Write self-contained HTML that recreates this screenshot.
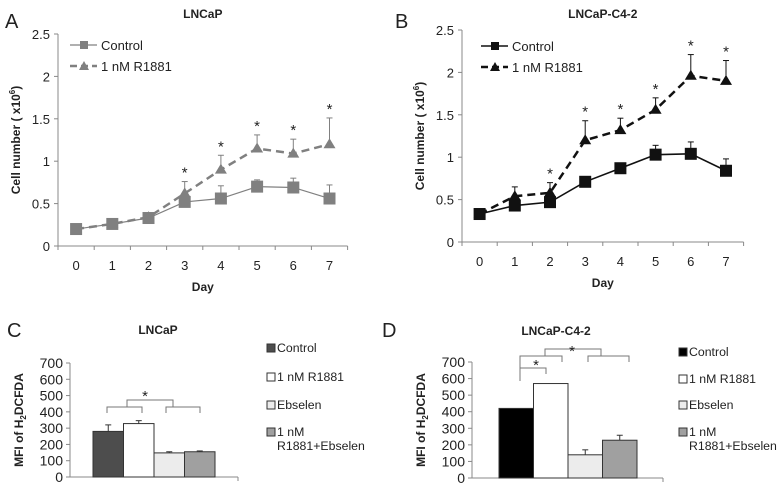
<!DOCTYPE html>
<html><head><meta charset="utf-8"><style>
body{margin:0;background:#fff}
svg{display:block;font-family:"Liberation Sans",Arial,sans-serif}
</style></head><body>
<svg id="s" width="780" height="487" viewBox="0 0 780 487"></svg>
<script>
const days=[0,1,2,3,4,5,6,7];
const aCtrl=[0.2,0.26,0.33,0.52,0.56,0.70,0.69,0.56];
const aCtrlErr=[0.02,0.05,0.05,0.05,0.15,0.08,0.11,0.16];
const aR=[0.2,0.26,0.34,0.62,0.9,1.15,1.09,1.2];
const aRErr=[0,0,0,0.14,0.17,0.16,0.17,0.31];
const aStar=[0,0,0,1,1,1,1,1];
const bCtrl=[0.33,0.43,0.47,0.71,0.87,1.03,1.04,0.84];
const bCtrlErr=[0,0,0,0,0,0.11,0.14,0.14];
const bR=[0.33,0.54,0.58,1.2,1.32,1.56,1.96,1.9];
const bRErr=[0,0.11,0.12,0.23,0.14,0.14,0.25,0.24];
const bStar=[0,0,1,1,1,1,1,1];
const yTicksLine=[0,0.5,1,1.5,2,2.5];
const yTickLabelsLine=["0","0.5","1","1.5","2","2.5"];
const barCats=["Control","1 nM R1881","Ebselen","1 nM R1881+Ebselen"];
const cVals=[280,328,148,155];
const cErr=[40,18,7,5];
const dVals=[420,570,140,228];
const dErr=[0,0,30,30];
const yTicksBar=[0,100,200,300,400,500,600,700];

const S=document.getElementById('s');
const NS="http://www.w3.org/2000/svg";
function el(t,a,txt,name){const e=document.createElementNS(NS,t);for(const k in a)e.setAttribute(k,a[k]);if(txt!=null)e.textContent=txt;


S.appendChild(e);return e;}
function line(x1,y1,x2,y2,st,w,da,name){return el('line',{x1,y1,x2,y2,stroke:st,'stroke-width':w||1,'stroke-dasharray':da||'none'},null,name||'line');}
function text(x,y,t,o,name){return el('text',Object.assign({x,y,'font-size':13,fill:'#222'},o||{}),t,name||'label');}

function linePanel(P){
  const xs=d=>P.x0+(d+0.5)*P.cw, ys=v=>P.y0-v*P.ppu;
  line(P.x0,P.y0,P.x0,ys(2.5),'#888',1,null,'y-axis');
  line(P.x0,P.y0,P.x0+8*P.cw,P.y0,'#888',1,null,'x-axis');
  yTicksLine.forEach((v,i)=>{line(P.x0-4,ys(v),P.x0,ys(v),'#888',1,null,'y-tick');text(P.x0-8,ys(v)+5,yTickLabelsLine[i],{'text-anchor':'end'},'y-tick-label');});
  for(let k=0;k<=8;k++)line(P.x0+k*P.cw,P.y0,P.x0+k*P.cw,P.y0+4,'#888',1,null,'x-tick');
  days.forEach(d=>text(xs(d),P.y0+24,String(d),{'text-anchor':'middle'},'x-tick-label'));
  text(xs(3.5),P.y0+45,'Day',{'text-anchor':'middle','font-weight':'bold','font-size':12},'x-axis-title');
  const yt=el('text',{x:0,y:0,'font-size':12,'font-weight':'bold',fill:'#222','text-anchor':'middle',transform:`translate(${P.x0-38},${ys(1.25)}) rotate(-90)`},null,'y-axis-title');
  yt.innerHTML='Cell number ( x10<tspan dy="-5" font-size="8">6</tspan><tspan dy="5">)</tspan>';
  text(xs(3.5),18,P.title,{'text-anchor':'middle','font-weight':'bold','font-size':12},'chart-title');
  text(P.lx,28,P.letter,{'font-size':20},'panel-letter');
  P.r.forEach((v,i)=>{if(P.re[i]>0){line(xs(i),ys(v),xs(i),ys(v+P.re[i]),P.c,1,null,'error-bar');line(xs(i)-3,ys(v+P.re[i]),xs(i)+3,ys(v+P.re[i]),P.c,1,null,'error-cap');}
    if(P.st[i])text(xs(i),ys(v+P.re[i])-4,'*',{'text-anchor':'middle','font-size':15},'significance-star');});
  P.ct.forEach((v,i)=>{if(P.ce[i]>0){line(xs(i),ys(v),xs(i),ys(v+P.ce[i]),P.c,1,null,'error-bar');line(xs(i)-3,ys(v+P.ce[i]),xs(i)+3,ys(v+P.ce[i]),P.c,1,null,'error-cap');}});
  el('polyline',{points:P.r.map((v,i)=>xs(i)+','+ys(v)).join(' '),fill:'none',stroke:P.c,'stroke-width':2.5,'stroke-dasharray':'8,5'},null,'r1881-line');
  el('polyline',{points:P.ct.map((v,i)=>xs(i)+','+ys(v)).join(' '),fill:'none',stroke:P.c,'stroke-width':P.cl},null,'control-line');
  P.r.forEach((v,i)=>el('polygon',{points:`${xs(i)},${ys(v)-6} ${xs(i)-6},${ys(v)+4} ${xs(i)+6},${ys(v)+4}`,fill:P.c},null,'r1881-point'));
  P.ct.forEach((v,i)=>el('rect',{x:xs(i)-6,y:ys(v)-6,width:12,height:12,fill:P.c},null,'control-point'));
  line(P.lgx,P.lgy,P.lgx+27,P.lgy,P.c,P.cl,null,'legend-control-line');
  el('rect',{x:P.lgx+10,y:P.lgy-4,width:8,height:8,fill:P.c},null,'legend-control-marker');
  text(P.lgx+31,P.lgy+5,'Control',{},'legend-control-label');
  line(P.lgx,P.lgy+21,P.lgx+27,P.lgy+21,P.c,2.5,'7,4','legend-r1881-line');
  el('polygon',{points:`${P.lgx+14},${P.lgy+16} ${P.lgx+9},${P.lgy+25} ${P.lgx+19},${P.lgy+25}`,fill:P.c},null,'legend-r1881-marker');
  text(P.lgx+31,P.lgy+26,'1 nM R1881',{},'legend-r1881-label');
}
linePanel({x0:58,y0:246,cw:36.2,ppu:84.8,title:'LNCaP',letter:'A',lx:5,c:'#808080',cl:1.2,ct:aCtrl,ce:aCtrlErr,r:aR,re:aRErr,st:aStar,lgx:70,lgy:45});
linePanel({x0:462,y0:242,cw:35.2,ppu:84.8,title:'LNCaP-C4-2',letter:'B',lx:395,c:'#111',cl:1.6,ct:bCtrl,ce:bCtrlErr,r:bR,re:bRErr,st:bStar,lgx:481,lgy:46});

const fills=['#4d4d4d','#fff','#ececec','#a0a0a0'];
function barPanel(P){
  const ys=v=>P.y0-v*P.ppv;
  line(P.x0,P.y0,P.x0,ys(700),'#888',1,null,'y-axis');
  line(P.x0,P.y0,P.xe,P.y0,'#888',1,null,'x-axis');
  line(P.xe,P.y0,P.xe,P.y0+4,'#888',1,null,'x-tick');
  yTicksBar.forEach(v=>{line(P.x0-4,ys(v),P.x0,ys(v),'#888',1,null,'y-tick');text(P.x0-7,ys(v)+5,String(v),{'text-anchor':'end','font-size':14},'y-tick-label');});
  const yt=el('text',{x:0,y:0,'font-size':12,'font-weight':'bold',fill:'#222','text-anchor':'middle',transform:`translate(${P.x0-47},${ys(350)}) rotate(-90)`},null,'y-axis-title');
  yt.innerHTML='MFI of H<tspan dy="3" font-size="8">2</tspan><tspan dy="-3">DCFDA</tspan>';
  text(P.tx,P.ty,P.title,{'text-anchor':'middle','font-weight':'bold','font-size':12},'chart-title');
  text(P.lx,P.ly,P.letter,{'font-size':20},'panel-letter');
  P.v.forEach((v,i)=>{const x=P.bx+i*P.bw;
    el('rect',{x,y:ys(v),width:P.bw,height:P.y0-ys(v),fill:P.f[i],stroke:'#333','stroke-width':1},null,'bar-'+barCats[i].toLowerCase().replace(/[^a-z0-9]+/g,'-'));
    if(P.e[i]>0){const cx=x+P.bw/2;line(cx,ys(v),cx,ys(v+P.e[i]),'#333',1,null,'error-bar');line(cx-3,ys(v+P.e[i]),cx+3,ys(v+P.e[i]),'#333',1,null,'error-cap');}});
  barCats.forEach((c,i)=>{const y=P.lgy[i];
    el('rect',{x:P.lgx,y:y-8,width:8,height:8,fill:P.f[i],stroke:'#333','stroke-width':1},null,'legend-swatch');
    if(i<3)text(P.lgx+10,y,c,{'font-size':12.3},'legend-label');
    else{text(P.lgx+10,y,'1 nM',{'font-size':12.3},'legend-label');text(P.lgx+10,y+14,'R1881+Ebselen',{'font-size':12.3},'legend-label');}});
  P.br.forEach(b=>{el('polyline',{points:`${b[0]},${b[2]+6} ${b[0]},${b[2]} ${b[1]},${b[2]} ${b[1]},${b[2]+6}`,fill:'none',stroke:'#777','stroke-width':1},null,'significance-bracket');});
  P.tops.forEach(t=>{el('polyline',{points:`${t[0]},${t[2]+7} ${t[0]},${t[2]} ${t[1]},${t[2]} ${t[1]},${t[2]+7}`,fill:'none',stroke:'#777','stroke-width':1},null,'significance-connector');});
  P.stars.forEach(s=>text(s[0],s[1],'*',{'text-anchor':'middle','font-size':15},'significance-star'));
}
barPanel({x0:70,y0:477,xe:238,ppv:114/700,bx:93,bw:30.5,v:cVals,e:cErr,f:fills,title:'LNCaP',tx:158,ty:334,letter:'C',lx:7,ly:337,
  lgx:267,lgy:[352,381,409,436],br:[[107,142,407],[166,200,407]],tops:[[127,173,400]],stars:[[145,401]]});
barPanel({x0:472,y0:478,xe:663,ppv:116/700,bx:499,bw:34.5,v:dVals,e:dErr,f:['#000','#fff','#ececec','#a0a0a0'],title:'LNCaP-C4-2',tx:556,ty:335,letter:'D',lx:382,ly:337,
  lgx:679,lgy:[356,383,409,436],br:[],tops:[],stars:[]});
</script>
<script>
(function(){
const S=document.getElementById('s');const NS="http://www.w3.org/2000/svg";
function pl(pts,name){const e=document.createElementNS(NS,'polyline');e.setAttribute('points',pts);e.setAttribute('fill','none');e.setAttribute('stroke','#777');


S.appendChild(e);}
function st(x,y){const e=document.createElementNS(NS,'text');e.setAttribute('x',x);e.setAttribute('y',y);e.setAttribute('text-anchor','middle');e.setAttribute('font-size','15');e.setAttribute('fill','#222');e.textContent='*';


S.appendChild(e);}
pl('520,381 520,368 546,368 546,374','significance-bracket');
pl('520,372 520,356 562,356 562,362','significance-bracket');
pl('588,362 588,356 629,356 629,362','significance-bracket');
pl('545,356 545,349 601,349 601,356','significance-connector');
st(536,370);st(572,356);
})();
</script>
</body></html>
